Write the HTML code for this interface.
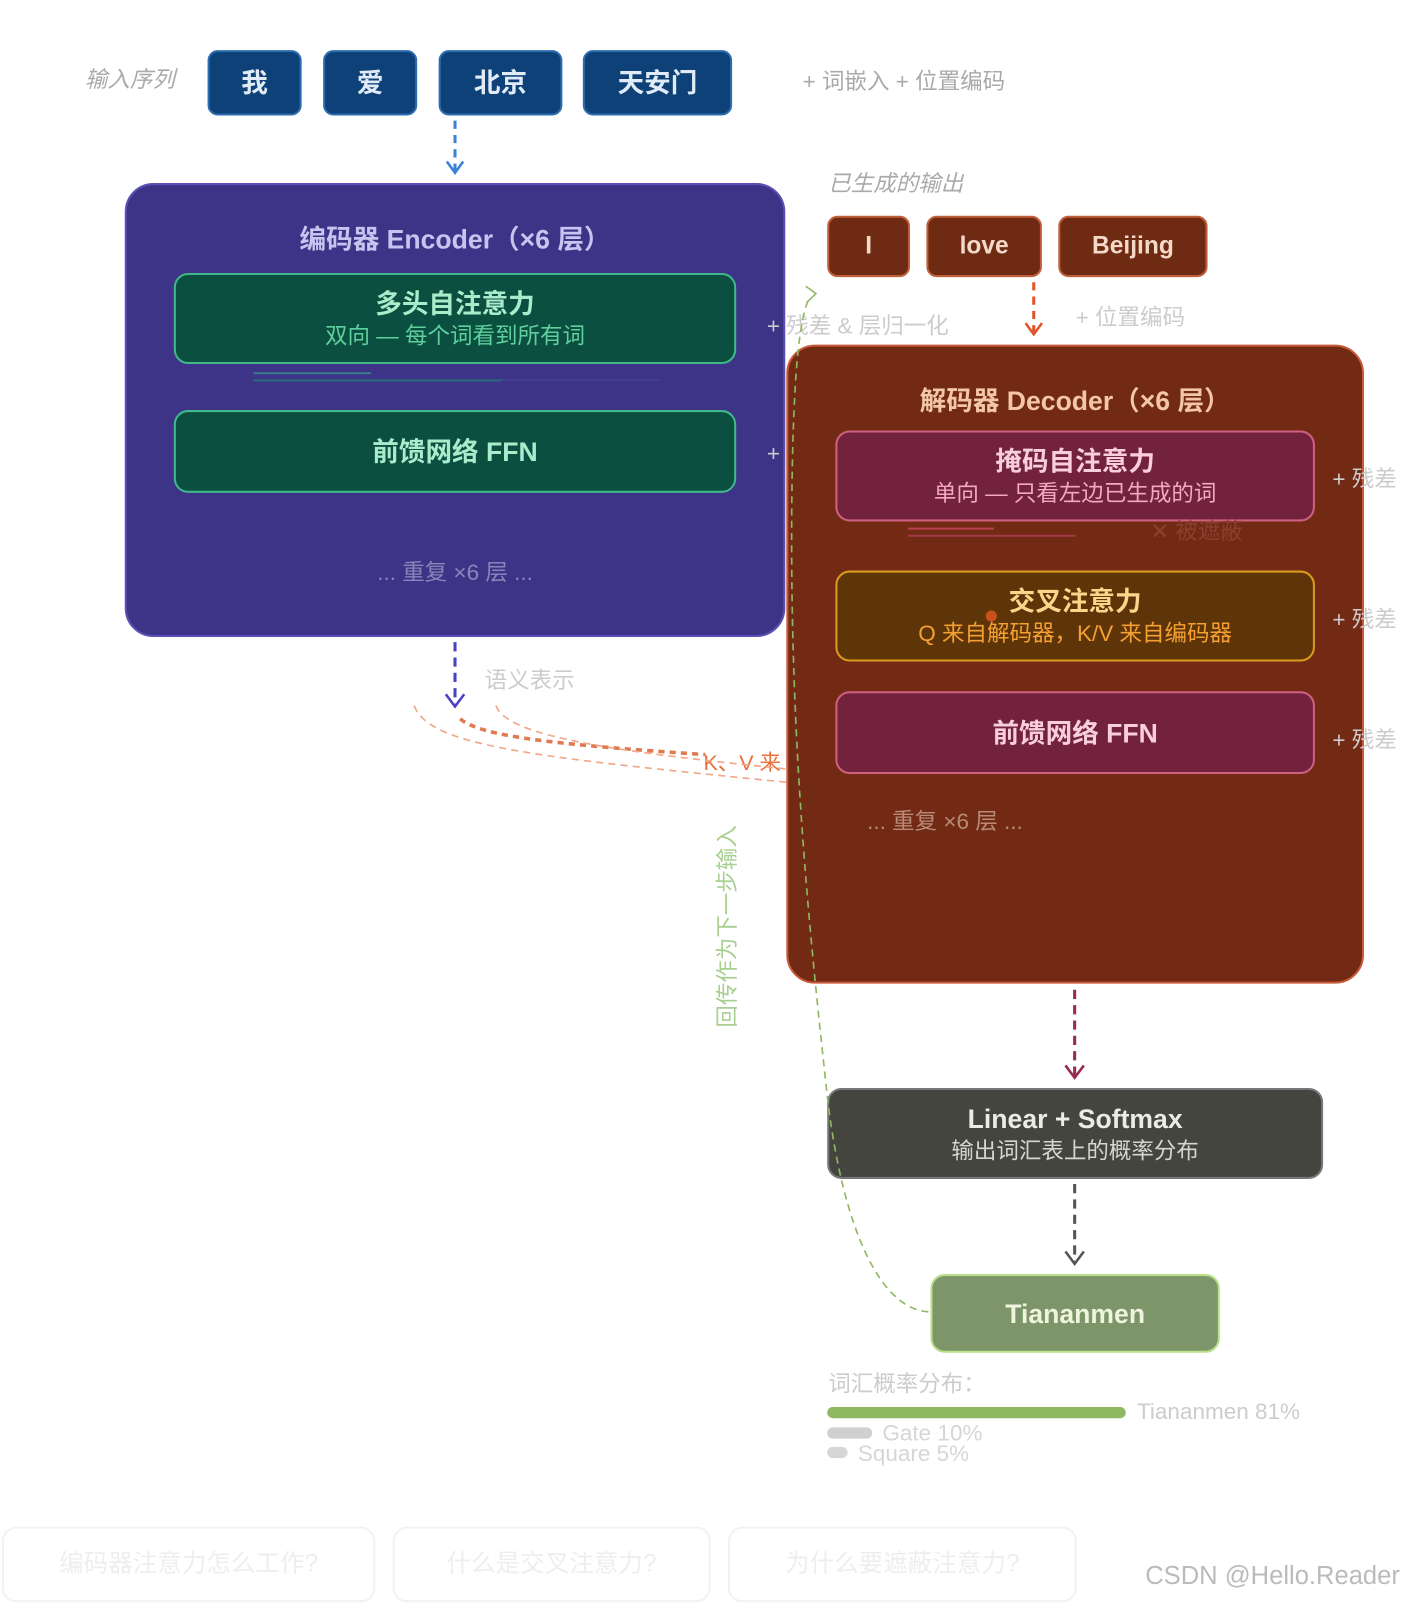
<!DOCTYPE html>
<html><head><meta charset="utf-8"><style>
*{margin:0;padding:0;box-sizing:border-box}
body{width:1406px;height:1604px;background:#fff;position:relative;overflow:hidden;font-family:"Liberation Sans","Noto Sans CJK SC",sans-serif}
#w{position:absolute;left:0;top:0;width:1380px;height:1570px;transform:scale(1.0225);transform-origin:0 0}
.a{position:absolute}
.box{position:absolute;display:flex;flex-direction:column;align-items:center;justify-content:center;text-align:center}
.t{font-size:26px;font-weight:bold;line-height:34px}
.s{font-size:22px;line-height:30px}
.g{position:absolute;color:#c8c8c8;font-size:22px;white-space:nowrap}
</style></head><body><div id="w">
<div class="g" style="left:83px;top:60px;font-style:italic;color:#aaa">输入序列</div>
<div class="box t" style="left:203px;top:49px;width:92px;height:64px;background:#0d4177;border:2px solid #2c6cb0;border-radius:10px;color:#e0ebf7">我</div>
<div class="box t" style="left:316px;top:49px;width:92px;height:64px;background:#0d4177;border:2px solid #2c6cb0;border-radius:10px;color:#e0ebf7">爱</div>
<div class="box t" style="left:429px;top:49px;width:121px;height:64px;background:#0d4177;border:2px solid #2c6cb0;border-radius:10px;color:#e0ebf7">北京</div>
<div class="box t" style="left:570px;top:49px;width:146px;height:64px;background:#0d4177;border:2px solid #2c6cb0;border-radius:10px;color:#e0ebf7">天安门</div>
<div class="g" style="left:785px;top:62px;color:#aaa">+ 词嵌入 + 位置编码</div>

<div class="a" style="left:122px;top:179px;width:646px;height:444px;background:#3d3487;border:2px solid #5a4fb5;border-radius:28px"></div>
<div class="g" style="left:122px;width:646px;text-align:center;top:214px;font-size:26px;font-weight:bold;color:#c9c3f0">编码器 Encoder（×6 层）</div>
<div class="box" style="left:170px;top:267px;width:550px;height:89px;background:#0b4f40;border:2px solid #3fb88a;border-radius:14px"><div class="t" style="color:#a8eccb">多头自注意力</div><div class="s" style="color:#5fd09d">双向 — 每个词看到所有词</div></div>
<div class="a" style="left:248px;top:364px;width:115px;height:2px;background:#3a7a8a"></div>
<div class="a" style="left:248px;top:371px;width:242px;height:2px;background:#2d6a78"></div>
<div class="a" style="left:490px;top:371px;width:155px;height:1px;background:#4a4aa0"></div>
<div class="box" style="left:170px;top:401px;width:550px;height:81px;background:#0b4f40;border:2px solid #3fb88a;border-radius:14px"><div class="t" style="color:#a8eccb">前馈网络 FFN</div></div>
<div class="g" style="left:122px;width:646px;text-align:center;top:542px;color:#8a85b8">... 重复 ×6 层 ...</div>
<div class="g" style="left:750px;top:301px;color:#ccc">+ 残差 &amp; 层归一化</div>
<div class="g" style="left:750px;top:431px;color:#ccc">+</div>

<div class="g" style="left:810px;top:162px;font-style:italic;color:#aaa">已生成的输出</div>
<div class="box t" style="left:809px;top:211px;width:81px;height:60px;background:#6e2a12;border:2px solid #c0603a;border-radius:10px;color:#f5d9c8;font-size:24px">I</div>
<div class="box t" style="left:906px;top:211px;width:113px;height:60px;background:#6e2a12;border:2px solid #c0603a;border-radius:10px;color:#f5d9c8;font-size:24px">love</div>
<div class="box t" style="left:1035px;top:211px;width:146px;height:60px;background:#6e2a12;border:2px solid #c0603a;border-radius:10px;color:#f5d9c8;font-size:24px">Beijing</div>
<div class="g" style="left:1052px;top:293px;color:#ccc">+ 位置编码</div>

<div class="a" style="left:769px;top:337px;width:565px;height:625px;background:#722a14;border:2px solid #c85a3a;border-radius:28px"></div>
<div class="g" style="left:769px;width:565px;text-align:center;top:372px;font-size:26px;font-weight:bold;color:#f3c6a8">解码器 Decoder（×6 层）</div>
<div class="box" style="left:817px;top:421px;width:469px;height:89px;background:#72223d;border:2px solid #d06080;border-radius:14px"><div class="t" style="color:#f8cede">掩码自注意力</div><div class="s" style="color:#f2a8c0">单向 — 只看左边已生成的词</div></div>
<div class="a" style="left:888px;top:516px;width:84px;height:2px;background:#b84050"></div>
<div class="a" style="left:888px;top:523px;width:164px;height:2px;background:#a03848"></div>
<div class="g" style="left:1125px;top:502px;color:#8a4030">✕ 被遮蔽</div>
<div class="box" style="left:817px;top:558px;width:469px;height:89px;background:#5e3508;border:2px solid #d99a20;border-radius:14px"><div class="t" style="color:#fcd58a">交叉注意力</div><div class="s" style="color:#f5a030">Q 来自解码器，K/V 来自编码器</div></div>
<div class="a" style="left:964px;top:597px;width:11px;height:11px;border-radius:50%;background:#c8501a"></div>
<div class="box" style="left:817px;top:676px;width:469px;height:81px;background:#72223d;border:2px solid #d06080;border-radius:14px"><div class="t" style="color:#f8cede">前馈网络 FFN</div></div>
<div class="g" style="left:848px;top:786px;color:#b88a78">... 重复 ×6 层 ...</div>
<div class="g" style="left:1303px;top:451px;color:#ccc">+ 残差</div>
<div class="g" style="left:1303px;top:588px;color:#ccc">+ 残差</div>
<div class="g" style="left:1303px;top:706px;color:#ccc">+ 残差</div>

<div class="g" style="left:474px;top:648px;color:#ccc">语义表示</div>
<div class="g" style="left:688px;top:730px;color:#e8703a;font-size:21px">K、V 来</div>
<div class="g" style="left:595px;top:890px;transform:rotate(-90deg);transform-origin:center;color:#a8d090;width:230px;text-align:center">回传作为下一步输入</div>

<div class="box" style="left:809px;top:1064px;width:485px;height:89px;background:#45453f;border:2px solid #777;border-radius:14px"><div class="t" style="color:#ecece4">Linear + Softmax</div><div class="s" style="color:#d6d6cc">输出词汇表上的概率分布</div></div>
<div class="box t" style="left:910px;top:1246px;width:283px;height:77px;background:#7d9569;border:2px solid #b8e08a;border-radius:14px;color:#eef5dc">Tiananmen</div>

<div class="g" style="left:810px;top:1336px;color:#ccc">词汇概率分布：</div>
<div class="a" style="left:809px;top:1376px;width:292px;height:11px;border-radius:6px;background:#8fb862"></div>
<div class="g" style="left:1112px;top:1368px;color:#ccc">Tiananmen 81%</div>
<div class="a" style="left:809px;top:1396px;width:44px;height:11px;border-radius:6px;background:#d0d0d0"></div>
<div class="g" style="left:863px;top:1389px;color:#d6d6d6">Gate 10%</div>
<div class="a" style="left:809px;top:1415px;width:20px;height:11px;border-radius:6px;background:#d6d6d6"></div>
<div class="g" style="left:839px;top:1409px;color:#d6d6d6">Square 5%</div>

<div class="box s" style="left:2px;top:1493px;width:365px;height:74px;border:2px solid #f2f2f2;border-radius:14px;color:#eeeeee;font-size:24px">编码器注意力怎么工作?</div>
<div class="box s" style="left:384px;top:1493px;width:311px;height:74px;border:2px solid #f2f2f2;border-radius:14px;color:#eeeeee;font-size:24px">什么是交叉注意力?</div>
<div class="box s" style="left:712px;top:1493px;width:341px;height:74px;border:2px solid #f2f2f2;border-radius:14px;color:#eeeeee;font-size:24px">为什么要遮蔽注意力?</div>
<div class="g" style="left:1120px;top:1527px;font-size:25px;color:#bbb">CSDN @Hello.Reader</div>

<svg class="a" style="left:0;top:0" width="1380" height="1570" fill="none">
<path d="M445 118V168" stroke="#3b82d6" stroke-width="3" stroke-dasharray="8 6"/>
<path d="M437 158L445 169L453 158" stroke="#3b82d6" stroke-width="2.5"/>
<path d="M1011 276V326" stroke="#e0562a" stroke-width="3" stroke-dasharray="8 6"/>
<path d="M1003 316L1011 327L1019 316" stroke="#e0562a" stroke-width="2.5"/>
<path d="M445 628V690" stroke="#4a42c0" stroke-width="3" stroke-dasharray="9 6"/>
<path d="M436 679L445 691L454 679" stroke="#4a42c0" stroke-width="2.5"/>
<path d="M450 703C470 720 540 728 690 738" stroke="#e07a50" stroke-width="3.5" stroke-dasharray="6 5"/>
<path d="M405 690C420 730 520 740 769 765" stroke="#f0a888" stroke-width="1.6" stroke-dasharray="7 5"/>
<path d="M485 690C495 720 600 735 769 752" stroke="#f0a888" stroke-width="1.6" stroke-dasharray="7 5"/>
<path d="M1051 968V1052" stroke="#9a2a50" stroke-width="3" stroke-dasharray="9 6"/>
<path d="M1042 1042L1051 1054L1060 1042" stroke="#9a2a50" stroke-width="2.5"/>
<path d="M1051 1158V1236" stroke="#555" stroke-width="3" stroke-dasharray="9 6"/>
<path d="M1042 1224L1051 1236L1060 1224" stroke="#555" stroke-width="2.5"/>
<path d="M908 1283C860 1280 825 1200 810 1080C790 900 770 700 775 450C777 360 782 310 792 290" stroke="#8fb862" stroke-width="1.6" stroke-dasharray="7 5"/>
<path d="M788 280L798 287L789 296" stroke="#8fb862" stroke-width="1.5"/>
</svg>
</div></body></html>
